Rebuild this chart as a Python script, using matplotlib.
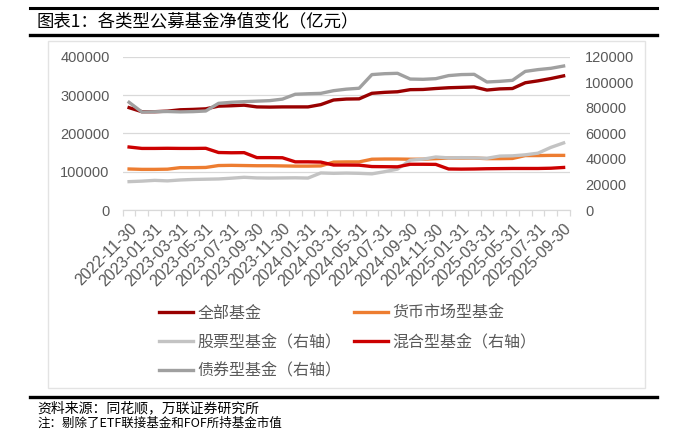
import matplotlib

matplotlib.use("Agg")
import matplotlib.pyplot as plt  # noqa: E402
import numpy as np  # noqa: E402
from matplotlib.lines import Line2D  # noqa: E402
from matplotlib.patches import Rectangle  # noqa: E402

plt.rcParams["font.family"] = ["Noto Sans CJK SC", "DejaVu Sans"]

# month-end dates, 2022-11 .. 2025-09
dates = [
    "2022-11-30", "2022-12-31", "2023-01-31", "2023-02-28", "2023-03-31", "2023-04-30",
    "2023-05-31", "2023-06-30", "2023-07-31", "2023-08-31", "2023-09-30", "2023-10-31",
    "2023-11-30", "2023-12-31", "2024-01-31", "2024-02-29", "2024-03-31", "2024-04-30",
    "2024-05-31", "2024-06-30", "2024-07-31", "2024-08-31", "2024-09-30", "2024-10-31",
    "2024-11-30", "2024-12-31", "2025-01-31", "2025-02-28", "2025-03-31", "2025-04-30",
    "2025-05-31", "2025-06-30", "2025-07-31", "2025-08-31", "2025-09-30",
]

# left axis (亿元)
all_funds = [
    267000, 256500, 256500, 258000, 261500, 262500, 264000, 271000, 272000, 273500,
    269000, 268500, 269000, 269000, 269000, 275000, 287000, 289500, 290000, 304500,
    307000, 308500, 314000, 314500, 317000, 319000, 320000, 321000, 313000, 316000,
    317000, 332000, 337000, 343000, 350000,
]
money_market = [
    107000, 106000, 106000, 106500, 110500, 110500, 111000, 116000, 116500, 116000,
    115500, 115500, 115000, 114500, 114500, 115000, 125000, 125500, 125500, 132500,
    133000, 133000, 132500, 132500, 134000, 135500, 135500, 135500, 134000, 134000,
    134500, 142000, 142000, 142500, 142500,
]

# right axis (亿元)
equity = [
    22200, 22600, 23200, 22800, 23500, 23900, 24100, 24300, 24900, 25600,
    25100, 25000, 25100, 25200, 25000, 29000, 28700, 28900, 28700, 28300,
    30000, 32000, 39000, 39800, 41500, 40800, 41000, 40800, 40500, 42200,
    42400, 43200, 44500, 49000, 52500,
]
hybrid = [
    49300, 48200, 48200, 48300, 48200, 48200, 48300, 45000, 44800, 44900,
    41000, 41000, 40900, 37700, 37700, 37500, 35200, 35200, 35100, 34000,
    33900, 33800, 35800, 35800, 35700, 32100, 32000, 32100, 32300, 32400,
    32500, 32500, 32500, 32700, 33300,
]
bond = [
    84300, 76700, 76900, 77100, 76800, 77000, 77500, 83500, 84300, 84800,
    85200, 85600, 86800, 90600, 91000, 91300, 93400, 94600, 95300, 106000,
    106700, 107000, 102500, 102300, 102800, 105200, 106000, 106200, 100200, 100700,
    101500, 108500, 109900, 110900, 112700,
]

left_ticks = [0, 100000, 200000, 300000, 400000]
right_ticks = [0, 20000, 40000, 60000, 80000, 100000, 120000]

INK = "#595959"
GRID = "#D9D9D9"
W, H = 687, 430


def fx(px):
    return px / W


def fy(py):
    return 1 - py / H


fig = plt.figure(figsize=(W / 100, H / 100), dpi=100)

# report frame: rules and chart box
for y, lw in [(8, 2.2), (35, 2.4), (397, 2.4)]:
    fig.add_artist(Line2D([fx(30), fx(657)], [fy(y), fy(y)], color="black", lw=lw))
fig.add_artist(Rectangle((fx(48), fy(388)), fx(645) - fx(48), fy(41) - fy(388),
                         fill=False, edgecolor="#E3E3E3", lw=1.0, transform=fig.transFigure))
fig.text(fx(37), fy(21), "图表1：各类型公募基金净值变化（亿元）", fontsize=12.5,
         color="black", va="center", ha="left")
fig.text(fx(37), fy(408), "资料来源：同花顺，万联证券研究所", fontsize=10,
         color="black", va="center", ha="left")
fig.text(fx(37), fy(417), "注：剔除了ETF联接基金和FOF所持基金市值", fontsize=9,
         color="black", va="top", ha="left")

ax = fig.add_axes([fx(122.7), fy(210), fx(570) - fx(122.7), fy(56.7) - fy(210)])
ax2 = ax.twinx()

x = np.arange(len(dates))
lw = 2.4
h_all, = ax.plot(x, all_funds, color="#990000", lw=lw, label="全部基金")
h_mm, = ax.plot(x, money_market, color="#ED7D31", lw=lw, label="货币市场型基金")
h_eq, = ax2.plot(x, equity, color="#C3C3C3", lw=lw, label="股票型基金（右轴）")
h_hy, = ax2.plot(x, hybrid, color="#CC0000", lw=lw, label="混合型基金（右轴）")
h_bd, = ax2.plot(x, bond, color="#A0A0A0", lw=lw, label="债券型基金（右轴）")

ax.set_xlim(-0.5, len(dates) - 0.5)
ax.set_ylim(0, 400000)
ax2.set_ylim(0, 120000)
ax.set_yticks(left_ticks)
ax2.set_yticks(right_ticks)

ax.set_xticks(x[::2])
ax.set_xticklabels(dates[::2], rotation=45, ha="right", rotation_mode="anchor",
                   fontfamily="Liberation Sans", fontsize=11.5, color=INK)
ax.set_xticks(np.arange(-0.5, len(dates), 1), minor=True)
ax.tick_params(axis="x", which="major", length=0, pad=8)
ax.tick_params(axis="x", which="minor", length=4, color=GRID, width=0.9)

for a, pad in [(ax, 9.5), (ax2, 11)]:
    a.tick_params(axis="y", length=0, pad=pad, labelsize=10.5, labelcolor=INK)
    for lab in a.get_yticklabels():
        lab.set_fontfamily("Liberation Sans")
    for side in ["top", "right", "left"]:
        a.spines[side].set_visible(False)
    a.spines["bottom"].set_color(GRID)

ax.yaxis.grid(True, color=GRID, lw=0.9)
ax.set_axisbelow(True)

fig.legend(handles=[h_all, h_eq, h_bd, h_mm, h_hy], ncol=2, loc="upper left",
           bbox_to_anchor=(fx(159), fy(305)), frameon=False, fontsize=11.5,
           handlelength=2.1, handletextpad=0.3, columnspacing=0.8, labelspacing=0.75,
           borderpad=0, borderaxespad=0, labelcolor=INK)

fig.savefig("out.png", dpi=100)
